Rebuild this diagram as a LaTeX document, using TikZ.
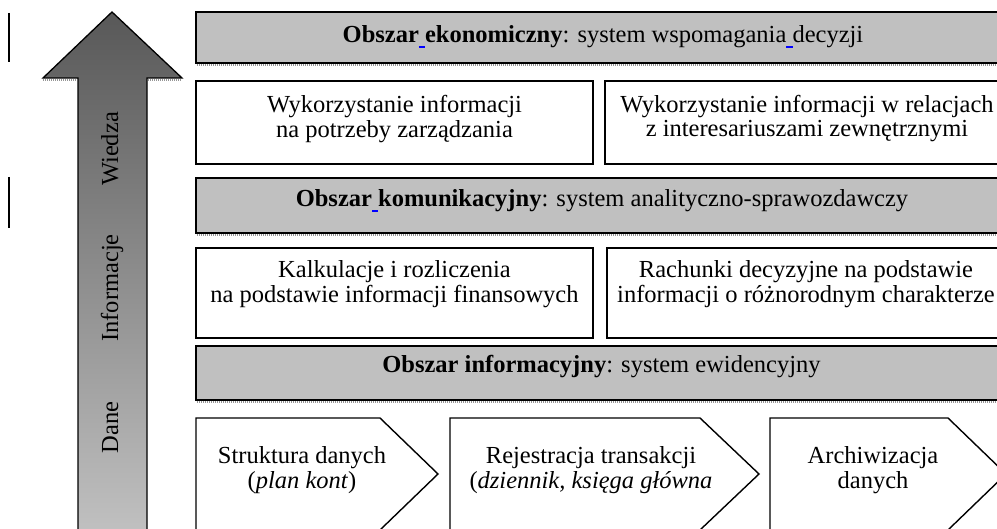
\documentclass[tikz,border=0pt]{standalone}
\usepackage{fontspec}
\setmainfont{Liberation Serif}
\definecolor{barfill}{RGB}{192,192,192}
\definecolor{arrtop}{RGB}{88,88,88}
\definecolor{arrbot}{RGB}{194,194,194}
\definecolor{shadowgray}{RGB}{150,150,150}
\newcommand{\twolines}[2]{\begin{tabular}[t]{@{}c@{}}#1\\#2\end{tabular}}
\newcommand{\bluesp}{\makebox[0.25em][l]{\textcolor{blue}{\rule[-5pt]{0.25em}{2pt}}}}
\begin{document}
\begin{tikzpicture}[x=1pt,y=-1pt,
  every node/.style={inner sep=0pt,outer sep=0pt,font=\fontsize{24.5}{24}\selectfont},
  bar/.style={draw=black,line width=1.8pt,fill=barfill},
  wbox/.style={draw=black,line width=1.6pt,fill=white},
  chev/.style={draw=black,line width=1.4pt,fill=white,line join=miter},
  shadowline/.style={draw=shadowgray,line width=2pt,dash pattern=on 1pt off 1pt},
  lbl/.style={anchor=base}
]
\useasboundingbox (0,0) rectangle (997,529);
% left marks
\draw[line width=1.6pt] (9,13) -- (9,62);
\draw[line width=1.6pt] (9,177) -- (9,228);
% big arrow
\draw[line width=1.3pt,top color=arrtop,bottom color=arrbot,line join=miter]
  (112,12) -- (182,78) -- (147,78) -- (147,540) -- (78,540) -- (78,78) -- (43,78) -- cycle;
\draw[shadowline] (43,80) -- (77,80);
\draw[shadowline] (148,80) -- (182,80);
\node[rotate=90,anchor=base] (wiedza) at (118,149) {Wiedza};
\node[rotate=90,anchor=base] (informacje) at (118,288) {Informacje};
\node[rotate=90,anchor=base] (dane) at (118,427.5) {Dane};
% bar 1
\draw[bar] (196,12) rectangle (1012,63);
\draw[shadowline] (197,65.5) -- (1012,65.5);
\node[lbl] (bar1) at (603,43) {\textbf{Obszar\bluesp ekonomiczny}: system wspomagania\bluesp decyzji};
% row 1
\draw[wbox] (196,81) rectangle (593,164);
\draw[wbox] (605,81) rectangle (1012,164);
\node[lbl] (r1a) at (394.5,113) {\twolines{Wykorzystanie informacji}{na potrzeby zarządzania}};
\node[lbl] (r1b) at (807,113) {\twolines{Wykorzystanie informacji w relacjach}{z interesariuszami zewnętrznymi}};
% bar 2
\draw[bar] (196,178) rectangle (1012,233);
\draw[shadowline] (197,235.5) -- (1012,235.5);
\node[lbl] (bar2) at (602,207) {\textbf{Obszar\bluesp komunikacyjny}: system analityczno-sprawozdawczy};
% row 2
\draw[wbox] (196,248) rectangle (593,338);
\draw[wbox] (607,248) rectangle (1012,338);
\node[lbl] (r2a) at (394.5,278) {\twolines{Kalkulacje i rozliczenia}{na podstawie informacji finansowych}};
\node[lbl] (r2b) at (806,278) {\twolines{Rachunki decyzyjne na podstawie}{informacji o różnorodnym charakterze}};
% bar 3
\draw[bar] (196,346) rectangle (1012,400);
\draw[shadowline] (197,402.5) -- (1012,402.5);
\node[lbl] (bar3) at (601.5,373) {\textbf{Obszar informacyjny}: system ewidencyjny};
% chevrons
\draw[chev] (196,540) -- (196,418) -- (380,418) -- (438,474) -- (380,530);
\draw[chev] (450,540) -- (450,418) -- (700,418) -- (759,474) -- (700,530);
\draw[chev] (770,540) -- (770,418) -- (948,418) -- (1006,474) -- (948,530);
\node[lbl] (c1) at (302,464) {\twolines{Struktura danych}{(\textit{plan kont})}};
\node[lbl] (c2) at (591,464) {\twolines{Rejestracja transakcji}{(\textit{dziennik, księga główna}}};
\node[lbl] (c3) at (873,464) {\twolines{Archiwizacja}{danych}};
\end{tikzpicture}
\end{document}
